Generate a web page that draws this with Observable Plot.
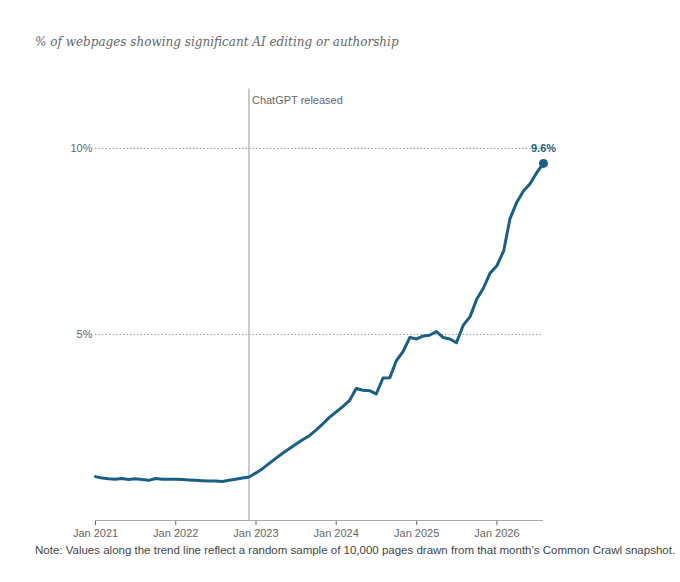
<!DOCTYPE html>
<html><head><meta charset="utf-8">
<script src="https://cdn.jsdelivr.net/npm/d3@7"></script>
<script src="https://cdn.jsdelivr.net/npm/@observablehq/plot@0.6"></script>
<style>
body{margin:0;background:#fff;font-family:"Liberation Sans",Arial,sans-serif;}
#sub{position:absolute;left:35px;top:35px;font:italic 12px "DejaVu Serif",Georgia,serif;color:#666;}
#chart{position:absolute;left:0;top:60px;}
#note{position:absolute;left:35px;top:544px;font-size:11.5px;color:#444;}
</style></head><body>
<div id="sub">% of webpages showing significant AI editing or authorship</div>
<div id="chart"></div>
<div id="note">Note: Values along the trend line reflect a random sample of 10,000 pages drawn from that month’s Common Crawl snapshot.</div>
<script>
const startYear = 2021;
const values = [1.18,1.14,1.12,1.11,1.13,1.10,1.12,1.10,1.08,1.13,1.11,1.11,
1.11,1.10,1.09,1.08,1.07,1.06,1.06,1.05,1.08,1.11,1.14,1.17,
1.28,1.40,1.53,1.67,1.80,1.93,2.05,2.17,2.28,2.43,2.60,2.77,
2.92,3.07,3.22,3.55,3.50,3.49,3.40,3.83,3.84,4.30,4.55,4.92,
4.88,4.96,4.98,5.08,4.92,4.88,4.78,5.25,5.48,5.95,6.25,6.65,
6.85,7.25,8.10,8.55,8.85,9.05,9.35,9.60];
const yTicks = [5, 10];
const xTickYears = [2021,2022,2023,2024,2025,2026];
const chatgptDate = new Date(2022,10,30);
const data = values.map((v,i)=>({date:new Date(startYear, i, 1), value:v}));
const last = data[data.length-1];
const blue = "#1b5e86";
const chart = Plot.plot({
  width:680, height:500, marginLeft:95, marginRight:137, marginTop:88, marginBottom:40,
  style:{fontFamily:"Liberation Sans, Arial, sans-serif", fontSize:"11px", color:"#666"},
  x:{type:"time", domain:[data[0].date, last.date], ticks:xTickYears.map(y=>new Date(y,0,1)),
     tickFormat:d=>"Jan "+d.getFullYear(), label:null, tickSize:5},
  y:{domain:[0,10], axis:null},
  marks:[
    Plot.ruleY(yTicks,{stroke:"#999", strokeDasharray:"1.5,2"}),
    Plot.text(yTicks,{x:data[0].date, y:d=>d, text:d=>d+"%", textAnchor:"end", dx:-3, fill:"#666"}),
    Plot.ruleX([chatgptDate],{y1:0, y2:11.6, stroke:"#bbb", strokeWidth:1.5}),
    Plot.text(["ChatGPT released"],{x:chatgptDate, y:11.3, text:d=>d, textAnchor:"start", dx:3, fill:"#666"}),
    Plot.ruleY([0],{stroke:"#aaa"}),
    Plot.line(data,{x:"date", y:"value", stroke:blue, strokeWidth:3}),
    Plot.dot([last],{x:"date", y:"value", r:4.5, fill:blue}),
    Plot.text([last],{x:"date", y:"value", text:d=>d.value+"%", dy:-15, fill:blue, fontWeight:"bold"})
  ]
});
document.getElementById("chart").append(chart);
</script></body></html>
